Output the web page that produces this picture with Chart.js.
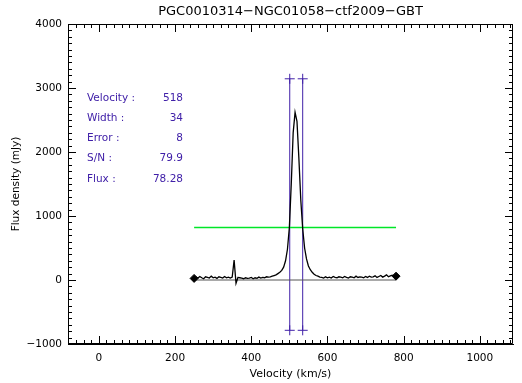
<!DOCTYPE html>
<html>
<head>
<meta charset="utf-8">
<script src="https://cdn.jsdelivr.net/npm/chart.js@4.4.1/dist/chart.umd.min.js"></script>
<style>
html,body{margin:0;padding:0;background:#fff;}
#wrap{width:522px;height:383px;}
</style>
</head>
<body>
<div id="wrap"><canvas id="c" width="522" height="383"></canvas></div>
<script>
// ---------- data ----------
const chartTitle = "PGC0010314\u2212NGC01058\u2212ctf2009\u2212GBT";
const xTitle = "Velocity (km/s)";
const yTitle = "Flux density (mJy)";
const xTickValues = [0, 200, 400, 600, 800, 1000];
const yTickValues = [-1000, 0, 1000, 2000, 3000, 4000];

const velocity = [
  250,255,260,265,270,275,280,285,290,295,
  300,305,310,315,320,325,330,335,340,345,
  350,355,360,365,370,375,380,385,390,395,
  400,405,410,415,420,425,430,435,440,445,
  450,455,460,465,470,475,480,485,490,495,
  500,505,510,515,520,525,530,535,540,545,
  550,555,560,565,570,575,580,
  585,590,595,600,605,610,615,620,625,630,
  635,640,645,650,655,660,665,670,675,680,
  685,690,695,700,705,710,715,720,725,730,
  735,740,745,750,755,760,765,770,775,780
];
const flux = [
  25,45,30,55,35,20,50,40,30,60,
  35,45,25,50,40,30,55,35,45,30,
  45,310,-50,40,35,30,20,35,25,30,
  40,20,35,25,45,30,40,35,50,45,
  50,60,70,80,100,120,150,200,300,480,
  820,1500,2300,2620,2480,1900,1250,800,500,330,
  220,160,120,90,70,60,45,
  40,30,50,35,45,30,55,40,35,50,
  45,35,55,40,30,50,45,35,60,40,
  50,45,35,55,40,60,45,50,65,40,
  55,70,45,60,80,50,65,75,55,60
];
const endVel = [250, 780];
const endFlux = [25, 60];
const baseVel = [250, 780];
const baseFlux = [0, 0];
const levelVel = [250, 780];
const levelFlux = [820, 820];
const lowVel = [501, 501];
const highVel = [535, 535];
const markFlux = [-786, 3144];
const statLabels = ["Velocity :", "Width :", "Error :", "S/N :", "Flux :"];
const statValues = ["518", "34", "8", "79.9", "78.28"];

const xMin = -81, xMax = 1087, yMin = -1000, yMax = 4000;

// ---------- helpers ----------
const pts = (xs, ys) => xs.map((x, i) => ({x: x, y: ys[i]}));
const FONT = "'DejaVu Sans', sans-serif";
const PURPLE = '#4020a8';
const GREEN = 'rgb(0,230,40)';

const boxPlugin = {
  id: 'box',
  afterDraw(chart) {
    const {ctx, chartArea: a, scales: {x, y}} = chart;
    ctx.save();
    ctx.strokeStyle = '#000';
    ctx.lineWidth = 1;
    ctx.beginPath();
    ctx.rect(a.left + 0.5, a.top + 0.5, a.right - a.left - 1, a.bottom - a.top - 1);
    ctx.stroke();
    ctx.beginPath();
    for (let v = -80; v <= xMax; v += 20) {
      const px = Math.round(x.getPixelForValue(v)) + 0.5;
      const len = (v % 200 === 0) ? 8 : 4;
      ctx.moveTo(px, a.bottom); ctx.lineTo(px, a.bottom - len);
      ctx.moveTo(px, a.top); ctx.lineTo(px, a.top + len);
    }
    for (let v = yMin; v <= yMax; v += 100) {
      const py = Math.round(y.getPixelForValue(v)) + 0.5;
      const len = (v % 1000 === 0) ? 8 : 4;
      ctx.moveTo(a.left, py); ctx.lineTo(a.left + len, py);
      ctx.moveTo(a.right, py); ctx.lineTo(a.right - len, py);
    }
    ctx.stroke();
    ctx.fillStyle = '#000';
    ctx.font = "13px " + FONT;
    ctx.textAlign = 'center';
    ctx.textBaseline = 'middle';
    ctx.fillText(chartTitle, (a.left + a.right) / 2, 12);
    ctx.fillStyle = PURPLE;
    ctx.font = "10.5px " + FONT;
    statLabels.forEach((t, i) => {
      const yy = a.top + 74 + i * 20.2;
      ctx.textAlign = 'left';
      ctx.fillText(t, a.left + 19, yy);
      ctx.textAlign = 'right';
      ctx.fillText(statValues[i], a.left + 115, yy);
    });
    ctx.restore();
  }
};

new Chart(document.getElementById('c'), {
  type: 'scatter',
  data: {
    datasets: [
      {label: 'ends', data: pts(endVel, endFlux), pointStyle: 'rectRot', pointRadius: 4, pointBackgroundColor: '#000', pointBorderColor: '#000', showLine: false},
      {label: 'spectrum', data: pts(velocity, flux), showLine: true, borderColor: '#000', backgroundColor: '#000', borderWidth: 1.3, pointRadius: 0, tension: 0},
      {label: 'level', data: pts(levelVel, levelFlux), showLine: true, borderColor: GREEN, backgroundColor: GREEN, pointBorderColor: GREEN, borderWidth: 1.5, pointRadius: 0},
      {label: 'zero', data: pts(baseVel, baseFlux), showLine: true, borderColor: '#555', backgroundColor: '#555', borderWidth: 1, pointRadius: 0},
      {label: 'vlow', data: pts(lowVel, markFlux), showLine: true, borderColor: PURPLE, backgroundColor: PURPLE, borderWidth: 1, pointStyle: 'cross', pointRadius: 5, pointBorderColor: PURPLE, pointBorderWidth: 1},
      {label: 'vhigh', data: pts(highVel, markFlux), showLine: true, borderColor: PURPLE, backgroundColor: PURPLE, borderWidth: 1, pointStyle: 'cross', pointRadius: 5, pointBorderColor: PURPLE, pointBorderWidth: 1}
    ]
  },
  options: {
    responsive: false,
    animation: false,
    devicePixelRatio: 1,
    layout: {padding: {left: 0, top: 24, right: 9, bottom: 0}},
    plugins: {legend: {display: false}, tooltip: {enabled: false}, title: {display: false}},
    scales: {
      x: {
        type: 'linear', min: xMin, max: xMax,
        afterFit: s => { s.height = 39; },
        afterBuildTicks: s => { s.ticks = xTickValues.map(v => ({value: v})); },
        grid: {display: false, drawTicks: false},
        border: {display: true, color: '#000'},
        ticks: {color: '#000', font: {family: FONT, size: 10.5}, padding: 8, maxRotation: 0,
                callback: v => String(v).replace('-', '\u2212')},
        title: {display: true, text: xTitle, color: '#000', font: {family: FONT, size: 11}, padding: {top: 0, bottom: 2}}
      },
      y: {
        type: 'linear', min: yMin, max: yMax,
        afterFit: s => { s.width = 68; },
        afterBuildTicks: s => { s.ticks = yTickValues.map(v => ({value: v})); },
        grid: {display: false, drawTicks: false},
        border: {display: true, color: '#000'},
        ticks: {color: '#000', font: {family: FONT, size: 10.5}, padding: 6,
                callback: v => String(v).replace('-', '\u2212')},
        title: {display: true, text: yTitle, color: '#000', font: {family: FONT, size: 10.5}, padding: {top: 10, bottom: 0}}
      }
    }
  },
  plugins: [boxPlugin]
});
</script>
</body>
</html>
